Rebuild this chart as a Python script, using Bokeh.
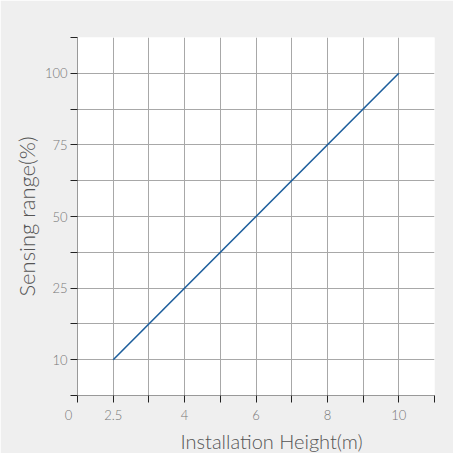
import numpy as np
from bokeh.plotting import figure
from bokeh.models import FixedTicker, Title
from bokeh.embed import file_html
from bokeh.resources import INLINE

# Data
x_tick_values = [0, 2.5, 4, 6, 8, 10]
x_tick_slots = [0, 1, 3, 5, 7, 9]
y_tick_values = [0, 10, 25, 50, 75, 100]
y_tick_slots = [0, 1, 3, 5, 7, 9]
x_labels = ["0\u2003\u2002\u2009", "2.5", "4", "6", "8", "10"]
y_labels = ["", "10", "25", "50", "75", "100"]
x_title = "Installation Height(m)"
y_title = "Sensing range(%)"
install_height = [2.5, 10]
sensing_range = [10, 100]

FONT = "Lato Light, Lato"

px = np.interp(install_height, x_tick_values, x_tick_slots)
py = np.interp(sensing_range, y_tick_values, y_tick_slots)

W, H = 453, 453
p = figure(width=W, height=H, output_backend="svg", toolbar_location=None,
           x_range=(0, 10), y_range=(0, 10),
           min_border_left=77, min_border_top=37,
           min_border_right=W - 77 - 357, min_border_bottom=H - 37 - 360)
p.background_fill_color = "white"
p.border_fill_color = "#efefef"
p.outline_line_color = None

p.line(px, py, line_color="#1d5e9c", line_width=1.6)

for ax, slots, labels in ((p.xaxis[0], x_tick_slots, x_labels), (p.yaxis[0], y_tick_slots, y_labels)):
    ax.ticker = FixedTicker(ticks=list(range(11)))
    overrides = {i: "" for i in range(11)}
    for s, l in zip(slots, labels):
        overrides[s] = l
    ax.major_label_overrides = overrides
    ax.axis_line_color = "#999999"
    ax.major_tick_line_color = "#222222"
    ax.major_tick_out = 7
    ax.major_tick_in = 0
    ax.minor_tick_line_color = None
    ax.major_label_text_color = "#777777"
    ax.major_label_text_font = FONT
    ax.major_label_text_font_size = "13px"
    ax.axis_label_text_color = "#555555"
    ax.axis_label_text_font = FONT
    ax.axis_label_text_font_style = "normal"

p.yaxis.axis_label = y_title
p.yaxis.axis_label_text_font_size = "22px"
p.xaxis.major_label_standoff = 4
p.yaxis.major_label_standoff = 3
p.yaxis.axis_label_standoff = 2

for g in (p.xgrid[0], p.ygrid[0]):
    g.ticker = FixedTicker(ticks=list(range(11)))
    g.grid_line_color = "#a8a8a8"
    g.grid_line_width = 1

p.add_layout(Title(text=x_title, align="left", offset=103, standoff=2,
                   text_font=FONT, text_font_size="20px", text_font_style="normal",
                   text_color="#555555"), "below")

open("out.html", "w").write(file_html(p, INLINE))
